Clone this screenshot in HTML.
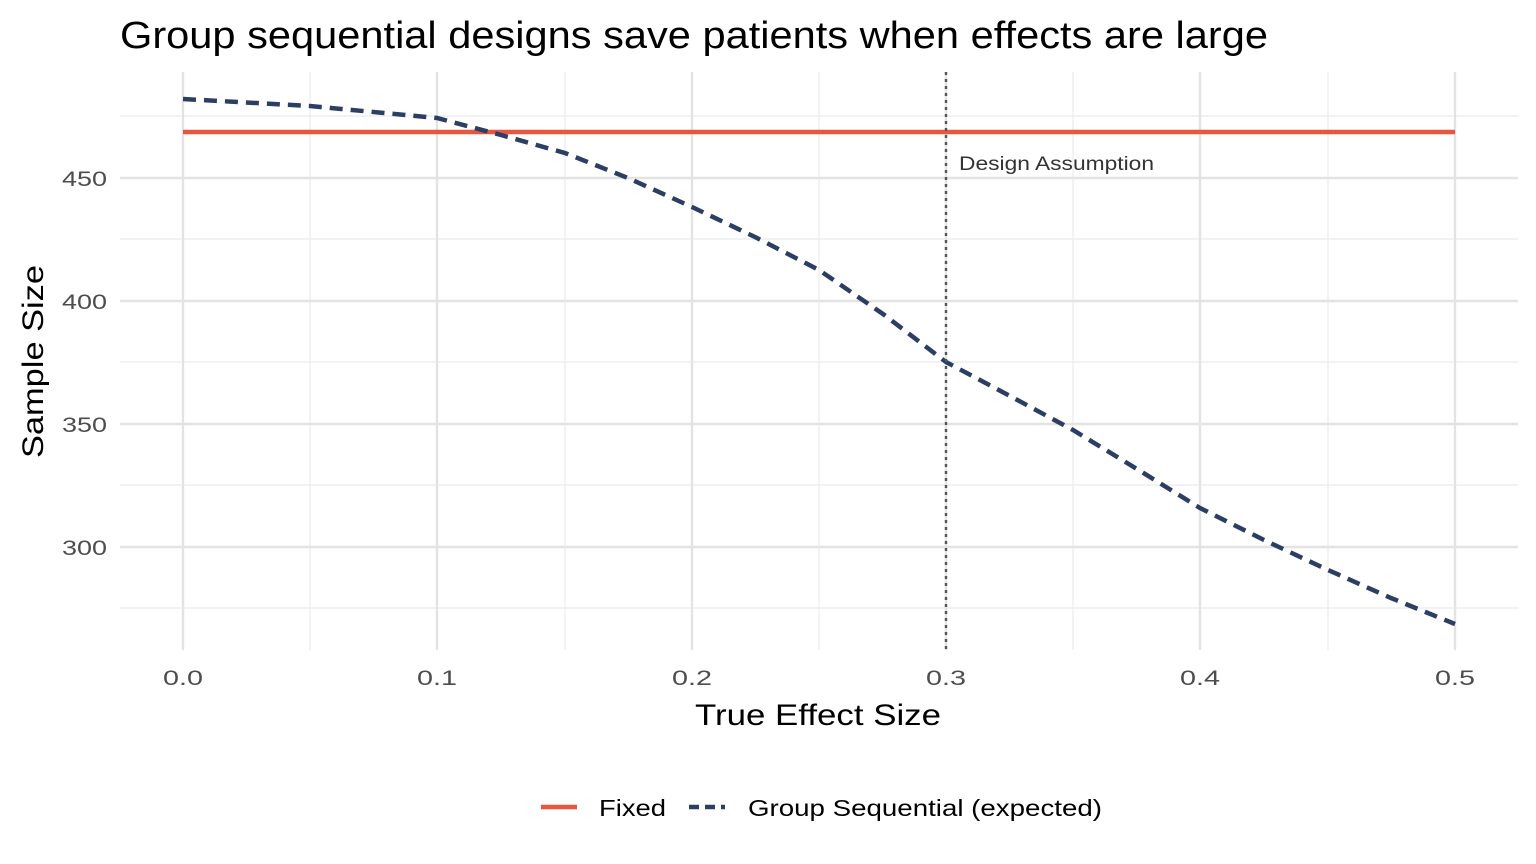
<!DOCTYPE html>
<html><head><style>body{margin:0;background:#fff}svg{display:block}</style></head><body>
<svg width="1536" height="864" xmlns="http://www.w3.org/2000/svg" font-family="Liberation Sans, sans-serif">
<rect width="1536" height="864" fill="#fff"/>
<g stroke="#ebebeb" stroke-width="1.2">
<line x1="120" x2="1518" y1="116" y2="116"/><line x1="120" x2="1518" y1="239" y2="239"/><line x1="120" x2="1518" y1="362" y2="362"/><line x1="120" x2="1518" y1="485" y2="485"/><line x1="120" x2="1518" y1="608" y2="608"/>
<line y1="72" y2="650" x1="310" x2="310"/><line y1="72" y2="650" x1="565" x2="565"/><line y1="72" y2="650" x1="819" x2="819"/><line y1="72" y2="650" x1="1073" x2="1073"/><line y1="72" y2="650" x1="1328" x2="1328"/>
</g>
<g stroke="#e3e3e3" stroke-width="2.4">
<line x1="120" x2="1518" y1="178" y2="178"/><line x1="120" x2="1518" y1="301" y2="301"/><line x1="120" x2="1518" y1="424" y2="424"/><line x1="120" x2="1518" y1="547" y2="547"/>
<line y1="72" y2="650" x1="183" x2="183"/><line y1="72" y2="650" x1="437" x2="437"/><line y1="72" y2="650" x1="692" x2="692"/><line y1="72" y2="650" x1="946" x2="946"/><line y1="72" y2="650" x1="1200" x2="1200"/><line y1="72" y2="650" x1="1455" x2="1455"/>
</g>
<line x1="183" x2="1455" y1="132" y2="132" stroke="#e8563f" stroke-width="4.5"/>
<polyline fill="none" stroke="#2c3e63" stroke-width="4.5" stroke-dasharray="13,8" points="183,99 310,106 437,118 501,135 565,153 628,178 692,207 755,237 819,270 883,314 946,362 1010,396 1073,430 1137,469 1200,508 1264,540 1328,570 1391,598 1455,624"/>
<line x1="946" x2="946" y1="72" y2="650" stroke="#555" stroke-width="2.4" stroke-dasharray="3,4"/>
<text x="959" y="170" font-size="19" fill="#333" textLength="195" lengthAdjust="spacingAndGlyphs">Design Assumption</text>
<g font-size="21" fill="#4d4d4d">
<text x="62" y="186" textLength="45" lengthAdjust="spacingAndGlyphs">450</text><text x="62" y="309" textLength="45" lengthAdjust="spacingAndGlyphs">400</text><text x="62" y="432" textLength="45" lengthAdjust="spacingAndGlyphs">350</text><text x="62" y="555" textLength="45" lengthAdjust="spacingAndGlyphs">300</text>
<text x="163" y="685" textLength="40" lengthAdjust="spacingAndGlyphs">0.0</text><text x="417" y="685" textLength="40" lengthAdjust="spacingAndGlyphs">0.1</text><text x="672" y="685" textLength="40" lengthAdjust="spacingAndGlyphs">0.2</text><text x="926" y="685" textLength="40" lengthAdjust="spacingAndGlyphs">0.3</text><text x="1180" y="685" textLength="40" lengthAdjust="spacingAndGlyphs">0.4</text><text x="1435" y="685" textLength="40" lengthAdjust="spacingAndGlyphs">0.5</text>
</g>
<text x="695" y="725" font-size="30" fill="#000" textLength="246" lengthAdjust="spacingAndGlyphs">True Effect Size</text>
<text transform="translate(43,458) rotate(-90)" font-size="30" fill="#000" textLength="193" lengthAdjust="spacingAndGlyphs">Sample Size</text>
<text x="120" y="48" font-size="38" fill="#000" textLength="1148" lengthAdjust="spacingAndGlyphs">Group sequential designs save patients when effects are large</text>
<line x1="541" x2="577" y1="807" y2="807" stroke="#e8563f" stroke-width="4.5"/>
<text x="599" y="816" font-size="23" fill="#000" textLength="67" lengthAdjust="spacingAndGlyphs">Fixed</text>
<line x1="689" x2="725" y1="807" y2="807" stroke="#2c3e63" stroke-width="4.5" stroke-dasharray="10,6"/>
<text x="748" y="816" font-size="23" fill="#000" textLength="354" lengthAdjust="spacingAndGlyphs">Group Sequential (expected)</text>
</svg>
</body></html>
